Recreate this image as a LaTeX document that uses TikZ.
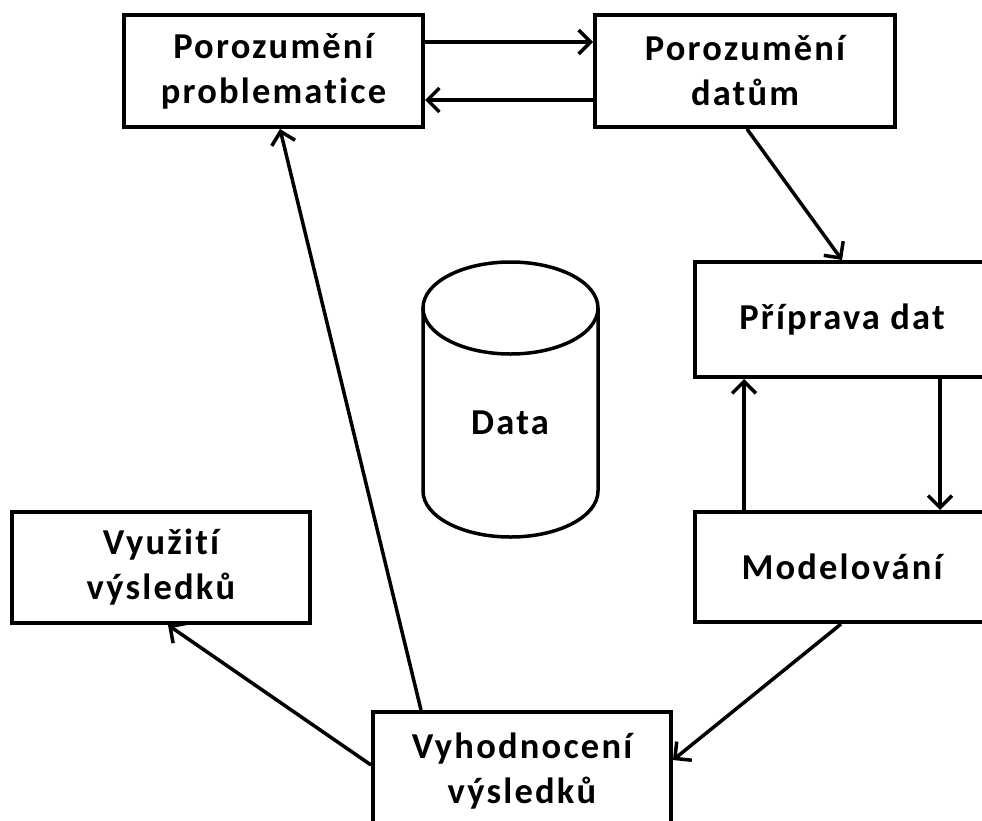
\documentclass[tikz,border=0pt]{standalone}
\usepackage{fontspec}
\setmainfont{Carlito}[Ligatures=NoCommon,LetterSpace=6]
\usetikzlibrary{arrows.meta,calc}
\begin{document}
\begin{tikzpicture}[x=1pt,y=-1pt,
  lbl/.style={font=\fontsize{36.5}{45}\selectfont\bfseries,align=center},
  box/.style={lbl,draw=black,line width=4pt,rectangle,inner sep=0pt},
  arr/.style={line width=3.5pt,-{Straight Barb[length=12pt,width=24pt,line width=3.5pt]}}]
\useasboundingbox (0,0) rectangle (982,820);
\clip (0,0) rectangle (982,820);
\fill[white] (0,0) rectangle (982,820);
% boxes
\node[box,minimum width=299pt,minimum height=112pt] (A) at (273.5,71) {Porozumění\\problematice};
\node[box,minimum width=300pt,minimum height=112pt] (B) at (745,71) {Porozumění\\datům};
\node[box,minimum width=294pt,minimum height=115pt] (C) at (842,319.5) {Příprava dat};
\node[box,minimum width=294pt,minimum height=110pt] (M) at (842,567) {Modelování};
\node[box,minimum width=298pt,minimum height=118pt] (V) at (522,771) {Vyhodnocení\\výsledků};
\node[box,minimum width=298pt,minimum height=111pt] (U) at (161,567.5) {Využití\\výsledků};
% cylinder
\draw[line width=3.5pt,fill=white] (423,308) -- (423,491) arc[start angle=180,end angle=0,x radius=87.5,y radius=46] -- (598,308);
\draw[line width=3.5pt] (510.5,308) ellipse[x radius=87.5,y radius=46];
\node[lbl] (D) at (510,423) {Data};
% connectors
\draw[arr] ([yshift=29pt]A.east) -- ([yshift=29pt]B.west);
\draw[arr] ([yshift=-29pt]B.west) -- ([yshift=-29pt]A.east);
\draw[arr] ([xshift=2pt]B.south) -- (C.north);
\draw[arr] ($(M.north west)+(51,0)$) -- ($(C.south west)+(51,0)$);
\draw[arr] ($(C.south west)+(247,0)$) -- ($(M.north west)+(247,0)$);
\draw[arr] ($(M.south west)+(148,0)$) -- ([yshift=11pt]V.east);
\draw[arr] ($(V.north west)+(50,0)$) -- ([xshift=6.5pt]A.south);
\draw[arr] ([yshift=6pt]V.west) -- ([xshift=7pt]U.south);
\end{tikzpicture}
\end{document}
